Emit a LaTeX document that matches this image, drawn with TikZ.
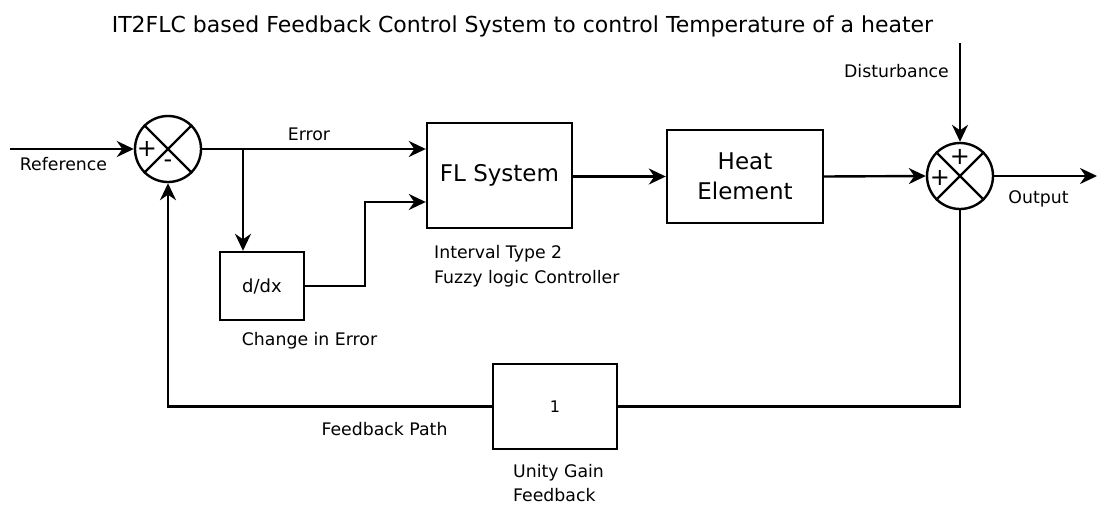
\documentclass[tikz,border=0pt]{standalone}
\usepackage{fontspec}
\setmainfont{DejaVu Sans}
\usetikzlibrary{arrows.meta}
\begin{document}
\begin{tikzpicture}[x=1pt,y=-1pt,line width=2.4pt,
  blk/.style={draw,rectangle,line width=2.4pt,inner sep=0pt},
  sumj/.style={draw,circle,minimum size=66pt,inner sep=0pt,line width=2.4pt},
  lbl/.style={font=\fontsize{17.3}{20}\selectfont,inner sep=0pt,anchor=base},
  big/.style={font=\fontsize{23}{30}\selectfont,align=center},
  sgn/.style={font=\fontsize{24}{24}\selectfont,inner sep=0pt},
  arr/.style={-{Stealth[length=17pt,width=16pt]}}]
\useasboundingbox (0,0) rectangle (1097,506);
\node[lbl,font=\fontsize{22}{26}\selectfont] (title) at (522.5,32) {IT2FLC based Feedback Control System to control Temperature of a heater};
% blocks
\node[sumj] (s1) at (168,149) {};
\node[sumj] (s2) at (960,176) {};
\node[blk,minimum width=145pt,minimum height=105pt,big] (fl) at (499.5,175.5) {FL System};
\node[blk,minimum width=156pt,minimum height=93pt,big] (he) at (745,176.5) {Heat\\Element};
\node[blk,minimum width=84pt,minimum height=68pt,font=\fontsize{18}{20}\selectfont] (dd) at (262,286) {d/dx};
\node[blk,minimum width=124pt,minimum height=85pt,font=\fontsize{16}{18}\selectfont] (ug) at (555,406.5) {1};
% crosses
\draw (s1.north west) -- (s1.south east);
\draw (s1.north east) -- (s1.south west);
\draw (s2.north west) -- (s2.south east);
\draw (s2.north east) -- (s2.south west);
\node[sgn] (p1) at (147,149) {+};
\node[sgn] (m1) at (168,164) {-};
\node[sgn] (p2) at (960,157) {+};
\node[sgn] (p3) at (940,178) {+};
% coordinates
\coordinate (refin) at (10,149);
\coordinate (br) at (243,149);
\coordinate (kk) at (365,202);
\coordinate (dtop) at (960,43);
\coordinate (outp) at (1097,176);
% connectors
\draw[arr] (refin) -- (s1.west);
\draw[arr] (s1.east) -- (s1.east -| fl.west);
\draw[arr] (br) -- (br |- dd.north);
\draw[arr] (dd.east) -| (kk) -- (kk -| fl.west);
\draw[arr] (fl.east |- he.west) -- (he.west);
\draw[arr] (he.east) -- (s2.west);
\draw[arr] (dtop) -- (s2.north);
\draw[arr] (s2.east) -- (outp);
\draw (s2.south) |- (ug.east);
\draw[arr] (ug.west) -| (s1.south);
% labels
\node[lbl] (lref) at (63.5,170) {Reference};
\node[lbl] (lerr) at (309,140) {Error};
\node[lbl] (lce) at (309.5,345) {Change in Error};
\node[lbl,anchor=base west] (lit1) at (433,258) {Interval Type 2};
\node[lbl,anchor=base west] (lit2) at (433,283) {Fuzzy logic Controller};
\node[lbl] (ldist) at (896.5,77) {Disturbance};
\node[lbl] (lout) at (1038.5,203) {Output};
\node[lbl] (lfp) at (384.5,435) {Feedback Path};
\node[lbl,anchor=base west] (lug1) at (512,477) {Unity Gain};
\node[lbl,anchor=base west] (lug2) at (512,501) {Feedback};
\end{tikzpicture}
\end{document}
